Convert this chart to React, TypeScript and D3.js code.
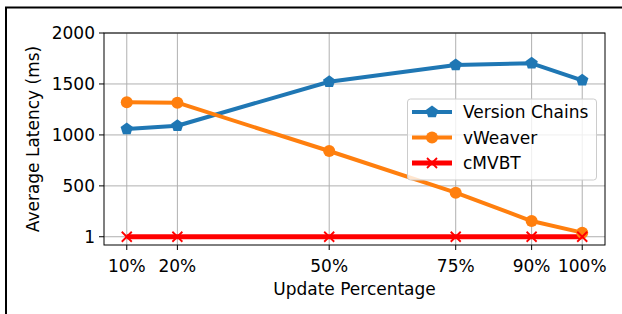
import React from 'react';
import * as d3 from 'd3';

const updatePct = [10, 20, 50, 75, 90, 100];
const xTickLabels = ['10%', '20%', '50%', '75%', '90%', '100%'];
const versionChains = [1058, 1090, 1522, 1686, 1703, 1536];
const vWeaver = [1320, 1316, 842, 433, 155, 41];
const cMVBT = [1, 1, 1, 1, 1, 1];
const yTicks = [1, 500, 1000, 1500, 2000];

const W = 622;
const H = 314;
const plot = { left: 104, top: 33, right: 605, bottom: 245 };
const font = 'DejaVu Sans, sans-serif';

const series = [
  { name: 'Version Chains', values: versionChains, color: '#1f77b4', marker: 'pentagon' },
  { name: 'vWeaver', values: vWeaver, color: '#ff7f0e', marker: 'circle' },
  { name: 'cMVBT', values: cMVBT, color: '#ff0000', marker: 'x' },
];

const pentagon = (r: number) =>
  d3.range(5).map((i) => {
    const a = -Math.PI / 2 + (i * 2 * Math.PI) / 5;
    return [r * Math.cos(a), r * Math.sin(a)];
  }).map((p) => p.join(',')).join(' ');

const Marker: React.FC<{ kind: string; color: string; x: number; y: number }> = ({ kind, color, x, y }) => {
  if (kind === 'circle') return <circle cx={x} cy={y} r={6} fill={color} />;
  if (kind === 'pentagon') return <polygon transform={`translate(${x},${y})`} points={pentagon(6.5)} fill={color} />;
  return (
    <g transform={`translate(${x},${y})`} stroke={color} strokeWidth={1.8}>
      <line x1={-5} y1={-5} x2={5} y2={5} />
      <line x1={-5} y1={5} x2={5} y2={-5} />
    </g>
  );
};

const App: React.FC = () => {
  const x = d3.scaleLinear().domain([5.5, 104.5]).range([plot.left, plot.right]);
  const y = d3.scaleLinear().domain([-80, 2000]).range([plot.bottom, plot.top]);
  const line = d3.line<number>().x((_, i) => x(updatePct[i])).y((d) => y(d));

  const legend = { x: 407.5, y: 99, w: 189, h: 81 };

  return (
    <svg width={W} height={H} style={{ position: 'absolute', left: 0, top: 0 }} fontFamily={font}>
      <rect width={W} height={H} fill="#fff" />
      <rect x={6} y={7.5} width={W + 20} height={H + 20} fill="none" stroke="#000" strokeWidth={2} />

      {/* grid */}
      {updatePct.map((d) => (
        <line key={`gx${d}`} x1={x(d)} x2={x(d)} y1={plot.top} y2={plot.bottom} stroke="#b0b0b0" strokeWidth={1} />
      ))}
      {yTicks.map((d) => (
        <line key={`gy${d}`} x1={plot.left} x2={plot.right} y1={y(d)} y2={y(d)} stroke="#b0b0b0" strokeWidth={1} />
      ))}

      {/* lines */}
      {series.map((s) => (
        <path key={s.name} d={line(s.values) || ''} fill="none" stroke={s.color} strokeWidth={s.marker === 'x' ? 5 : 4} strokeLinejoin="round" />
      ))}
      {series.map((s) =>
        s.values.map((v, i) => <Marker key={`${s.name}${i}`} kind={s.marker} color={s.color} x={x(updatePct[i])} y={y(v)} />)
      )}

      {/* frame */}
      <rect x={plot.left} y={plot.top} width={plot.right - plot.left} height={plot.bottom - plot.top} fill="none" stroke="#000" strokeWidth={1} />

      {/* y axis */}
      {yTicks.map((d) => (
        <g key={`yt${d}`} transform={`translate(${plot.left},${y(d)})`}>
          <line x1={-5} x2={0} stroke="#000" />
          <text x={-9} dy="0.36em" textAnchor="end" fontSize={17}>{d}</text>
        </g>
      ))}
      {/* x axis */}
      {updatePct.map((d, i) => (
        <g key={`xt${d}`} transform={`translate(${x(d)},${plot.bottom})`}>
          <line y1={0} y2={5} stroke="#000" />
          <text y={27} textAnchor="middle" fontSize={17}>{xTickLabels[i]}</text>
        </g>
      ))}

      <text x={(plot.left + plot.right) / 2} y={295} textAnchor="middle" fontSize={17}>Update Percentage</text>
      <text transform={`translate(39,${(plot.top + plot.bottom) / 2}) rotate(-90)`} textAnchor="middle" fontSize={17}>Average Latency (ms)</text>

      {/* legend */}
      <rect x={legend.x} y={legend.y} width={legend.w} height={legend.h} rx={3} fill="#fff" fillOpacity={0.8} stroke="#cccccc" strokeWidth={1} />
      {series.map((s, i) => {
        const cy = legend.y + 13 + i * 25.5;
        return (
          <g key={`lg${s.name}`}>
            <line x1={412} x2={452} y1={cy} y2={cy} stroke={s.color} strokeWidth={s.marker === 'x' ? 5 : 4} />
            <Marker kind={s.marker} color={s.color} x={432} y={cy} />
            <text x={463} y={cy} dy="0.36em" fontSize={17}>{s.name}</text>
          </g>
        );
      })}
    </svg>
  );
};

export default App;
